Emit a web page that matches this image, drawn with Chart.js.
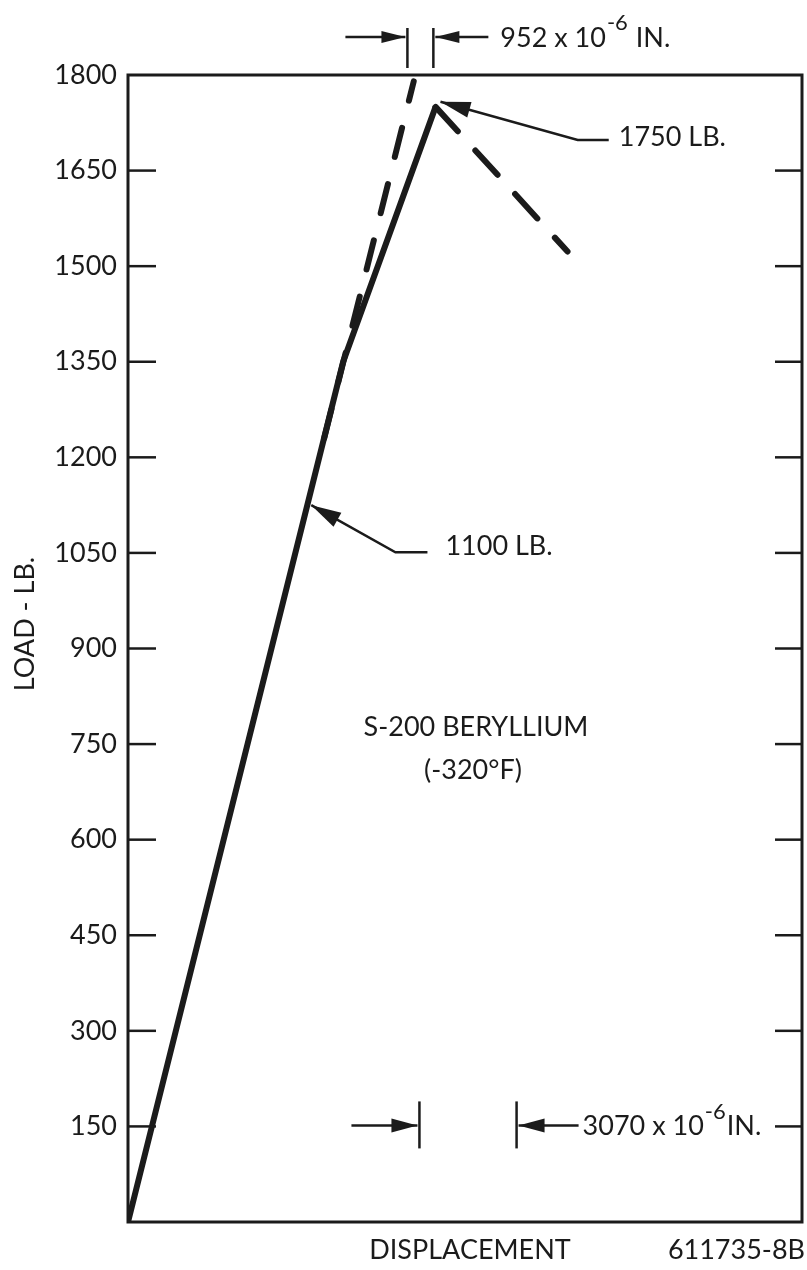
<!DOCTYPE html>
<html>
<head>
<meta charset="utf-8">
<script src="https://cdn.jsdelivr.net/npm/chart.js@4/dist/chart.umd.min.js"></script>
<style>
  body { margin: 0; background: #fff; }
  #wrap { width: 807px; height: 1270px; }
</style>
</head>
<body>
<div id="wrap"><canvas id="loadChart" width="807" height="1270"></canvas></div>
<script>
// displacement in 10^-6 in., load in lb
const solidDisp = [0, 6800, 9720];
const solidLoad = [0, 1350, 1750];
const elasticDisp = [6200, 9030];
const elasticLoad = [1230, 1790];
const unloadDisp = [9720, 13890];
const unloadLoad = [1750, 1523];
const loadTicks = [150, 300, 450, 600, 750, 900, 1050, 1200, 1350, 1500, 1650, 1800];
const dispMax = 21300;

// annotation anchors (data units)
const topGap = [8830, 9650];      // 952 x 10^-6 in.
const bottomGap = [9210, 12280];  // 3070 x 10^-6 in.
const callout1100 = [[5792, 1125], [8451, 1051], [9463, 1051]];
const callout1750 = [[9875, 1758], [14211, 1698], [15192, 1698]];

const ink = "#1b1b1b";
const FONT = "Lato, 'Open Sans', sans-serif";

function toXY(xs, ys) { return xs.map((v, i) => ({ x: v, y: ys[i] })); }

function arrowHead(ctx, x0, y0, x1, y1, len, half) {
  const ang = Math.atan2(y1 - y0, x1 - x0);
  ctx.beginPath();
  ctx.moveTo(x1, y1);
  ctx.lineTo(x1 - len * Math.cos(ang) + half * Math.sin(ang), y1 - len * Math.sin(ang) - half * Math.cos(ang));
  ctx.lineTo(x1 - len * Math.cos(ang) - half * Math.sin(ang), y1 - len * Math.sin(ang) + half * Math.cos(ang));
  ctx.closePath();
  ctx.fill();
}

function seg(ctx, x0, y0, x1, y1) {
  ctx.beginPath(); ctx.moveTo(x0, y0); ctx.lineTo(x1, y1); ctx.stroke();
}

function sci(ctx, x, y, base, exp, tail) {
  ctx.font = "27px " + FONT;
  ctx.textAlign = "left";
  ctx.textBaseline = "middle";
  ctx.fillText(base, x, y);
  let w = ctx.measureText(base).width;
  ctx.font = "22px " + FONT;
  ctx.fillText(exp, x + w + 1, y - 15);
  w += ctx.measureText(exp).width + 2;
  ctx.font = "27px " + FONT;
  ctx.fillText(tail, x + w, y);
}

const sketch = {
  id: "sketch",
  beforeDraw(chart) {
    const c = chart.ctx;
    c.save();
    c.fillStyle = "#fff";
    c.fillRect(0, 0, chart.width, chart.height);
    c.restore();
  },
  afterDatasetsDraw(chart) {
    const { ctx, chartArea: a, scales: { x, y } } = chart;
    const px = v => x.getPixelForValue(v);
    const py = v => y.getPixelForValue(v);
    ctx.save();
    ctx.strokeStyle = ink;
    ctx.fillStyle = ink;
    ctx.lineCap = "butt";

    // frame and inward ticks
    ctx.lineWidth = 3;
    ctx.strokeRect(a.left, a.top, a.right - a.left, a.bottom - a.top);
    ctx.lineWidth = 2.5;
    loadTicks.forEach(t => {
      if (t >= 1800) return;
      const yy = py(t);
      seg(ctx, a.left, yy, a.left + 28, yy);
      seg(ctx, a.right - 27, yy, a.right, yy);
    });

    // callouts
    ctx.lineWidth = 2.5;
    [callout1100, callout1750].forEach(c => {
      const p = c.map(([dx, dy]) => [px(dx), py(dy)]);
      ctx.beginPath();
      ctx.moveTo(p[2][0], p[2][1]);
      ctx.lineTo(p[1][0], p[1][1]);
      ctx.lineTo(p[0][0], p[0][1]);
      ctx.stroke();
      arrowHead(ctx, p[1][0], p[1][1], p[0][0], p[0][1], 30, 8);
    });
    ctx.font = "27px " + FONT;
    ctx.textAlign = "left";
    ctx.textBaseline = "middle";
    ctx.fillText("1100 LB.", px(callout1100[2][0]) + 18, py(callout1100[2][1]) - 6);
    ctx.fillText("1750 LB.", px(callout1750[2][0]) + 10, py(callout1750[2][1]) - 3);

    // 952 x 10^-6 in. gap (above frame)
    const tg0 = px(topGap[0]), tg1 = px(topGap[1]);
    const tTop = py(1800) - 47, tBot = py(1800) - 7, tMid = py(1800) - 38;
    ctx.lineWidth = 2.5;
    seg(ctx, tg0, tTop, tg0, tBot);
    seg(ctx, tg1, tTop, tg1, tBot);
    seg(ctx, tg0 - 62, tMid, tg0 - 2, tMid);
    arrowHead(ctx, tg0 - 40, tMid, tg0 - 2, tMid, 24, 6);
    seg(ctx, tg1 + 2, tMid, tg1 + 55, tMid);
    arrowHead(ctx, tg1 + 30, tMid, tg1 + 2, tMid, 24, 6);
    sci(ctx, tg1 + 67, tMid + 1, "952 x 10", "-6", " IN.");

    // 3070 x 10^-6 in. gap
    const bg0 = px(bottomGap[0]), bg1 = px(bottomGap[1]);
    const bMid = py(150) - 1;
    seg(ctx, bg0, bMid - 24, bg0, bMid + 23);
    seg(ctx, bg1, bMid - 24, bg1, bMid + 23);
    seg(ctx, bg0 - 68, bMid, bg0 - 2, bMid);
    arrowHead(ctx, bg0 - 40, bMid, bg0 - 2, bMid, 26, 7);
    seg(ctx, bg1 + 2, bMid, bg1 + 62, bMid);
    arrowHead(ctx, bg1 + 30, bMid, bg1 + 2, bMid, 26, 7);
    sci(ctx, bg1 + 66, bMid + 1, "3070 x 10", "-6", "IN.");

    // specimen label
    ctx.font = "27px " + FONT;
    ctx.textAlign = "center";
    ctx.textBaseline = "middle";
    ctx.fillText("S-200 BERYLLIUM", 476, 727);
    ctx.fillText("(-320\u00B0F)", 473, 770);

    // axis titles and figure number
    ctx.fillText("DISPLACEMENT", (a.left + a.right) / 2 + 5, 1250);
    ctx.textAlign = "right";
    ctx.fillText("611735-8B", chart.width - 2, 1250);
    ctx.save();
    ctx.translate(25, 624);
    ctx.rotate(-Math.PI / 2);
    ctx.textAlign = "center";
    ctx.fillText("LOAD - LB.", 0, 0);
    ctx.restore();

    ctx.restore();
  }
};

new Chart(document.getElementById("loadChart"), {
  type: "scatter",
  data: {
    datasets: [
      {
        label: "Load-displacement",
        data: toXY(solidDisp, solidLoad),
        showLine: true,
        borderColor: ink,
        borderWidth: 6,
        borderJoinStyle: "miter",
        pointRadius: 0,
      },
      {
        label: "Elastic extension",
        data: toXY(elasticDisp, elasticLoad),
        showLine: true,
        borderColor: ink,
        borderWidth: 6,
        borderDash: [30, 28],
        borderCapStyle: "round",
        pointRadius: 0,
      },
      {
        label: "Unloading",
        data: toXY(unloadDisp, unloadLoad),
        showLine: true,
        borderColor: ink,
        borderWidth: 6,
        borderDash: [33, 26],
        borderCapStyle: "round",
        pointRadius: 0,
      },
    ],
  },
  options: {
    responsive: false,
    animation: false,
    layout: { padding: { left: 0, top: 75, right: 5, bottom: 48 } },
    plugins: { legend: { display: false }, tooltip: { enabled: false } },
    scales: {
      x: {
        type: "linear",
        display: false,
        min: 0,
        max: dispMax,
      },
      y: {
        type: "linear",
        min: 0,
        max: 1800,
        afterFit: s => { s.width = 128; },
        afterBuildTicks: s => { s.ticks = [0, ...loadTicks].map(v => ({ value: v })); },
        grid: { display: false, drawTicks: false },
        border: { display: false },
        ticks: {
          padding: 11,
          color: ink,
          font: { family: FONT, size: 27 },
          callback: v => (v === 0 ? "" : String(v)),
        },
      },
    },
  },
  plugins: [sketch],
});
</script>
</body>
</html>
